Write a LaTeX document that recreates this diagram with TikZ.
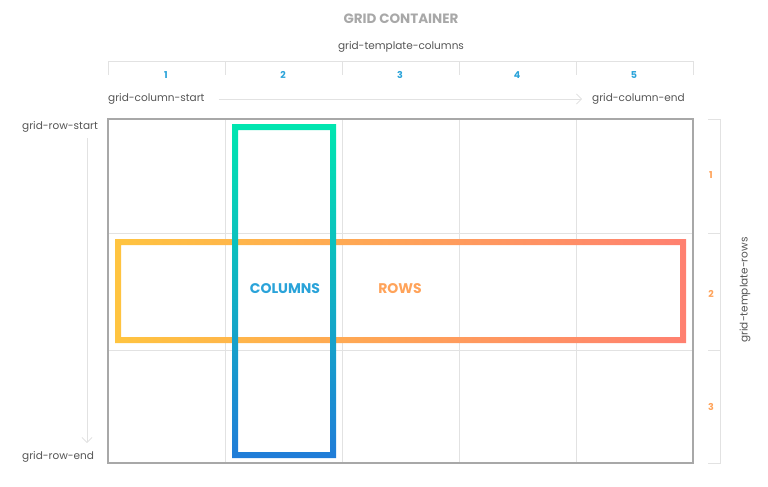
\documentclass[tikz,border=0pt]{standalone}
\usepackage{fontspec}
\setmainfont{Poppins}
\usetikzlibrary{arrows.meta}
\definecolor{gl}{HTML}{E2E2E2}
\definecolor{gb}{HTML}{A8A8A8}
\definecolor{tx}{HTML}{555555}
\definecolor{bl}{HTML}{2AA3D9}
\definecolor{og}{HTML}{FFA35A}
\begin{document}
\begin{tikzpicture}[x=1pt,y=-1pt,
  lbl/.style={font=\fontsize{10.5}{12}\selectfont, text=tx, inner sep=0},
  num/.style={font=\fontsize{9.5}{11}\selectfont\bfseries, inner sep=0},
  arr/.style={draw=gl, line width=0.8pt, -{Straight Barb[length=5pt]}}]
\useasboundingbox (0,0) rectangle (768,487);
% grid lines
\foreach \x in {225,342,459,576} \draw[gl, line width=1pt] (\x,119) -- (\x,463);
\foreach \y in {233,350} \draw[gl, line width=1pt] (108,\y) -- (693,\y);
\draw[gb, line width=1.2pt] (108,119) rectangle (693,463);
% top bracket
\draw[gl, line width=1pt] (108,75) -- (108,62) -- (693,62) -- (693,75);
\foreach \x in {225,342,459,576} \draw[gl, line width=1pt] (\x,62) -- (\x,75);
\foreach \i/\x in {1/166,2/283,3/400,4/517,5/634} \node[num, text=bl] (c\i) at (\x,75) {\i};
% right bracket
\draw[gl, line width=1pt] (708,119) -- (720,119) -- (720,463) -- (708,463);
\foreach \y in {233,350} \draw[gl, line width=1pt] (708,\y) -- (720,\y);
\foreach \i/\y in {1/175,2/294,3/407} \node[num, text=og] (r\i) at (711,\y) {\i};
% labels
\node[font=\fontsize{13.5}{15}\selectfont\bfseries, text=gb] (title) at (401,19) {GRID CONTAINER};
\node[lbl] (gtc) at (401,47) {grid-template-columns};
\node[lbl, anchor=west] (gcs) at (108,99) {grid-column-start};
\node[lbl, anchor=west] (gce) at (592,99) {grid-column-end};
\draw[arr] ([xshift=14pt]gcs.east) -- ([xshift=-10pt]gce.west);
\node[lbl, anchor=west] (grs) at (22,127) {grid-row-start};
\node[lbl, anchor=west] (gre) at (22,457) {grid-row-end};
\coordinate (ls) at (87,138); \coordinate (le) at (87,443);
\draw[arr] (ls) -- (le);
\node[lbl, rotate=90] (gtr) at (745,290) {grid-template-rows};
% rows box
\shade[left color={rgb,255:red,255;green,196;blue,64}, right color={rgb,255:red,255;green,128;blue,112}, even odd rule]
  (115,239) rectangle (686,343) (121,245) rectangle (680,337);
% columns box
\shade[top color={rgb,255:red,0;green,230;blue,176}, bottom color={rgb,255:red,32;green,124;blue,216}, even odd rule]
  (232,124) rectangle (336,458) (238,130) rectangle (330,452);
\node[font=\fontsize{14}{16}\selectfont\bfseries, text=bl] (cl) at (285,289) {COLUMNS};
\node[font=\fontsize{14}{16}\selectfont\bfseries, text=og] (rl) at (400,289) {ROWS};
\end{tikzpicture}
\end{document}
